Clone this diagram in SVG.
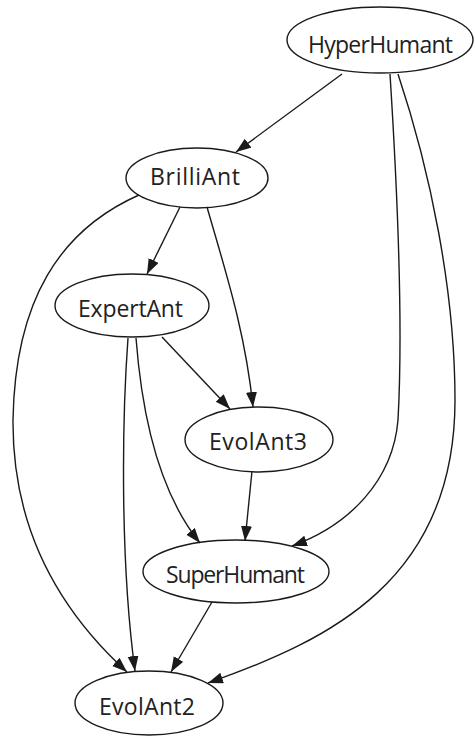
<svg xmlns="http://www.w3.org/2000/svg" width="475" height="736" viewBox="0 0 475 736">
<style>
.node ellipse{fill:none;stroke:#1a1a1a;stroke-width:1.4}
.node text{font-family:"Open Sans","Noto Sans",sans-serif;font-size:23px;fill:#222;text-anchor:middle}
.edge path{fill:none;stroke:#1a1a1a;stroke-width:1.4;marker-end:url(#arr)}
</style>
<defs>
<marker id="arr" markerUnits="userSpaceOnUse" markerWidth="16" markerHeight="12" refX="15" refY="5.5" orient="auto">
<path d="M0,0 L15,5.5 L0,11 z" fill="#1a1a1a"/>
</marker>
</defs>
<rect width="475" height="736" fill="#fff"/>
<g id="edges" class="edge">
<path d="M342,74 L236,152"/>
<path d="M390,74 C398,200 403,330 398,420 C393,480 350,525 292,546"/>
<path d="M398,74 C430,170 455,290 455,400 C455,580 330,640 208,683"/>
<path d="M180,207 L147,274"/>
<path d="M207,207 C225,270 245,330 253,407"/>
<path d="M139,195 C60,230 15,300 13,420 C12,540 70,620 127,672"/>
<path d="M162,337 L230,409"/>
<path d="M136,338 C143,430 165,500 200,543"/>
<path d="M128,338 C122,420 120,560 135,671"/>
<path d="M252,471 L245,541"/>
<path d="M212,602 L171,672"/>
</g>
<g id="HyperHumant" class="node"><ellipse cx="380" cy="40" rx="93" ry="33"/><text x="380.5" y="53" textLength="145" lengthAdjust="spacing">HyperHumant</text></g>
<g id="BrilliAnt" class="node"><ellipse cx="197" cy="178" rx="71" ry="30"/><text x="195" y="185" textLength="90" lengthAdjust="spacing">BrilliAnt</text></g>
<g id="ExpertAnt" class="node"><ellipse cx="132" cy="305.5" rx="77" ry="31.5"/><text x="130.5" y="317" textLength="105" lengthAdjust="spacing">ExpertAnt</text></g>
<g id="EvolAnt3" class="node"><ellipse cx="259" cy="439.5" rx="74" ry="32.5"/><text x="258" y="450" textLength="98" lengthAdjust="spacing">EvolAnt3</text></g>
<g id="SuperHumant" class="node"><ellipse cx="236" cy="571.5" rx="93" ry="31.5"/><text x="235.5" y="583" textLength="139" lengthAdjust="spacing">SuperHumant</text></g>
<g id="EvolAnt2" class="node"><ellipse cx="149" cy="703" rx="74" ry="32"/><text x="147" y="715" textLength="96" lengthAdjust="spacing">EvolAnt2</text></g>
</svg>
